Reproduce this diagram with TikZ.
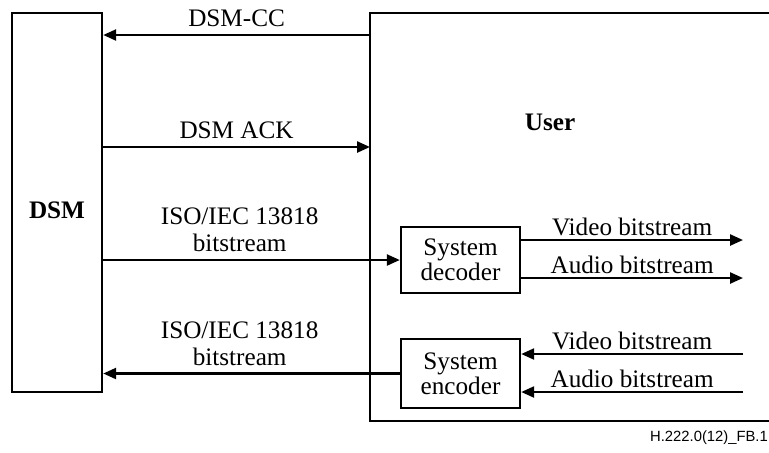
\documentclass[tikz,border=0pt]{standalone}
\usepackage{fontspec}
\setmainfont{Liberation Serif}
\newfontfamily\figsans{Liberation Sans}
\usetikzlibrary{positioning,arrows.meta}

\begin{document}
\begin{tikzpicture}[x=0.5pt, y=-0.5pt, line width=1.2pt,
    >={Triangle[length=6.5pt,width=5.5pt]},
    every node/.style={font=\fontsize{12.6}{13.5}\selectfont, align=center},
    boldlbl/.style={font=\bfseries\fontsize{12.6}{14}\selectfont},
    streamlbl/.style={above, inner sep=1.5pt}]
  \def\bw{59.5pt}
  \def\bh{33pt}

  \useasboundingbox (0,0) rectangle (769,452);

  \node[draw, minimum width=45pt, minimum height=189.5pt] (dsm) at (57,202.5) {};
  \node[boldlbl] (dsmtxt) at (57,210) {DSM};

  \draw (769,13) -| (370,421) -- (769,421);
  \node[boldlbl] (user) at (550,122) {User};
  \coordinate (cc) at (370,35);
  \coordinate (ack) at (370,147);

  \node[draw, minimum width=\bw, minimum height=\bh,
        font=\fontsize{12.6}{12.5}\selectfont] (dec)
      at (460.5,260) {System\\decoder};
  \node[draw, minimum width=\bw, minimum height=34.5pt,
        font=\fontsize{12.6}{12.5}\selectfont] (enc)
      at (460.5,373.5) {System\\encoder};

  \coordinate (vout) at (743,240);
  \coordinate (aout) at (743,278);
  \coordinate (vin) at (743,354);
  \coordinate (ain) at (743,392);

  \draw[->] (cc) -- (cc -| dsm.east) node[midway, above] {DSM-CC};
  \draw[->] (dsm.east |- ack) -- (ack) node[midway, above] {DSM ACK};
  \draw[->] (dsm.east |- dec.west) -- (dec.west)
      node[pos=0.46, above] {ISO/IEC 13818\\bitstream};
  \draw[->] (enc.west) -- (enc.west -| dsm.east)
      node[pos=0.54, above] {ISO/IEC 13818\\bitstream};

  \draw[->] (dec.east |- vout) -- (vout) node[midway, streamlbl] {Video bitstream};
  \draw[->] (dec.east |- aout) -- (aout) node[midway, streamlbl] {Audio bitstream};
  \draw[->] (vin) -- (vin -| enc.east) node[midway, streamlbl] {Video bitstream};
  \draw[->] (ain) -- (ain -| enc.east) node[midway, streamlbl] {Audio bitstream};

  \node[font=\figsans\fontsize{7.4}{8}\selectfont, anchor=east, inner sep=0pt] (figid)
      at (769,438) {H.222.0(12)\_FB.1};
\end{tikzpicture}
\end{document}
